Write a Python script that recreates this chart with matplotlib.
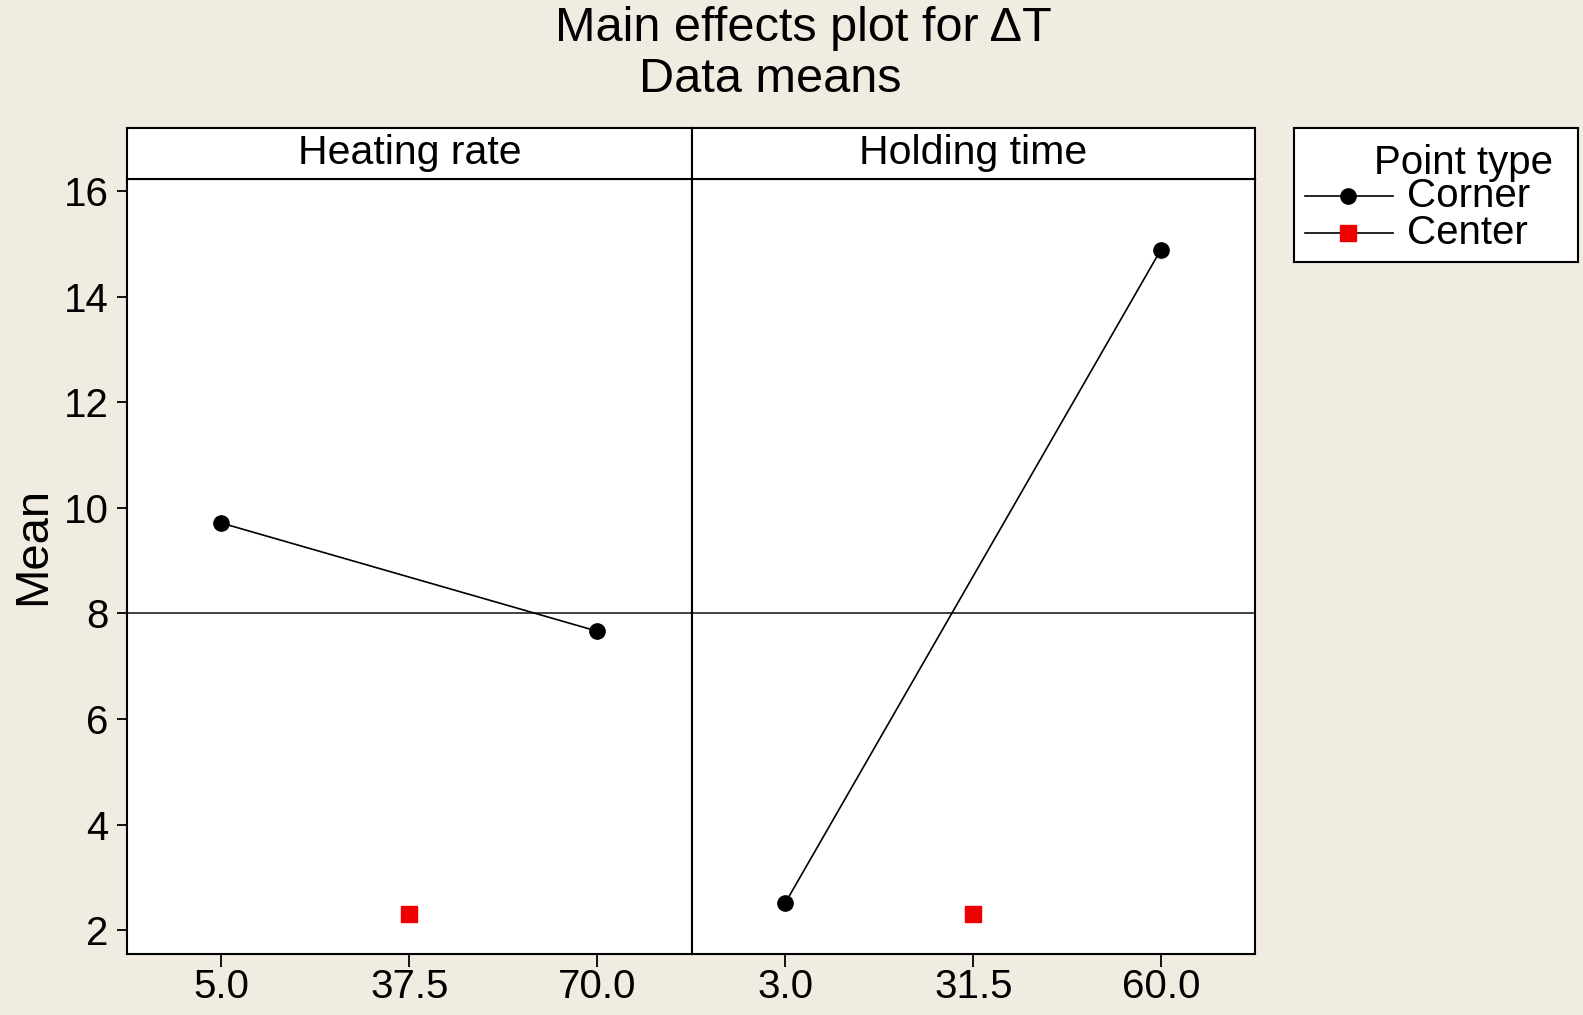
import matplotlib.pyplot as plt

plt.rcParams['font.family'] = ['Liberation Sans', 'DejaVu Sans']

# data
factors = ['Heating rate', 'Holding time']
corner_x = [[5.0, 70.0], [3.0, 60.0]]
corner_y = [[9.71, 7.66], [2.52, 14.89]]
center_x = [37.5, 31.5]
center_y = [2.31, 2.31]
tick_labels = [['5.0', '37.5', '70.0'], ['3.0', '31.5', '60.0']]
grand_mean = 8.0
point_types = ['Corner', 'Center']

bg = '#f0ece1'
red = '#ee0000'
fig = plt.figure(figsize=(15.83, 10.15), dpi=100, facecolor=bg)

# layout measured on a 1568 x 1005 view of the reference
W, H = 1568, 1005
left, mid, right = 126 / W, 685 / W, 1243 / W
bottom, top, strip_top = 1 - 945 / H, 1 - 177 / H, 1 - 127 / H

panels = [(left, mid), (mid, right)]
axes = []
for i, (x0, x1) in enumerate(panels):
    ax = fig.add_axes([x0, bottom, x1 - x0, top - bottom], sharey=axes[0] if axes else None)
    ax.set_facecolor('white')
    xs = [corner_x[i][0], center_x[i], corner_x[i][1]]
    pad = (xs[2] - xs[0]) / 4
    ax.set_xlim(xs[0] - pad, xs[2] + pad)
    ax.set_xticks(xs)
    ax.set_xticklabels(tick_labels[i])
    ax.axhline(grand_mean, color='#333333', lw=1.3, zorder=1)
    ax.plot(corner_x[i], corner_y[i], color='black', lw=1.2, marker='o', ms=11, zorder=3)
    ax.plot([center_x[i]], [center_y[i]], ls='none', marker='s', ms=12, color=red, zorder=3)
    for s in ax.spines.values():
        s.set_linewidth(1.5)
    ax.tick_params(axis='x', labelsize=29, length=9.4, width=1.3, direction='out', pad=0.5)
    ax.tick_params(axis='y', labelsize=29, length=7.2, width=1.3, direction='out', pad=6)
    if i > 0:
        ax.tick_params(axis='y', left=False, labelleft=False)
    # strip header
    sx = fig.add_axes([x0, top, x1 - x0, strip_top - top])
    sx.set_facecolor('white')
    sx.set_xticks([])
    sx.set_yticks([])
    for s in sx.spines.values():
        s.set_linewidth(1.5)
    sx.text(0.5, 0.52, factors[i], ha='center', va='center', fontsize=29.5, transform=sx.transAxes)
    axes.append(ax)

axes[0].set_ylim(1.54, 16.23)
axes[0].set_yticks([2, 4, 6, 8, 10, 12, 14, 16])
axes[0].set_ylabel('Mean', fontsize=34)
axes[0].yaxis.set_label_coords(-0.128, 0.526)

fig.text(796 / W, 1 - 28 / H, 'Main effects plot for ΔT', ha='center', va='center', fontsize=35)
fig.text(763 / W, 1 - 79 / H, 'Data means', ha='center', va='center', fontsize=35)

# legend box drawn in its own little axes (pixel units)
lg = fig.add_axes([1282 / W, 1 - 259 / H, 281 / W, 132 / H])
lg.set_facecolor('white')
lg.set_xlim(0, 281)
lg.set_ylim(132, 0)
lg.set_xticks([])
lg.set_yticks([])
for s in lg.spines.values():
    s.set_linewidth(1.5)
lg.text(256, 34, 'Point type', ha='right', va='center', fontsize=29)
styles = [dict(marker='o', ms=11, mfc='black', mec='black'),
          dict(marker='s', ms=12, mfc=red, mec=red)]
for k, name in enumerate(point_types):
    yy = 67 + 37 * k
    lg.plot([11, 98], [yy, yy], color='black', lw=1.2)
    lg.plot([53], [yy], ls='none', **styles[k])
    lg.text(112, yy, name, ha='left', va='center', fontsize=29)

fig.savefig('out.png', dpi=100, facecolor=bg)
